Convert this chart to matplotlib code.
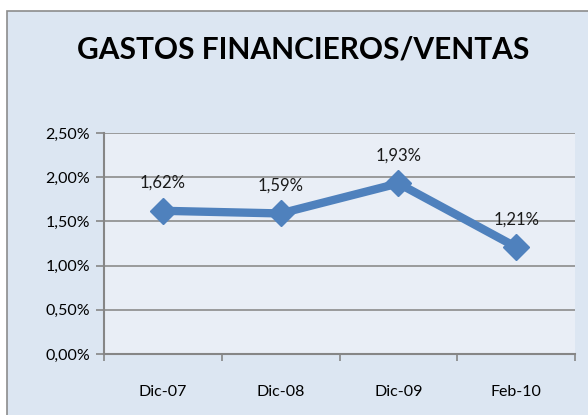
import matplotlib
matplotlib.use("Agg")
import matplotlib.pyplot as plt
from matplotlib.patches import Rectangle
from matplotlib.ticker import FuncFormatter

categories = ["Dic-07", "Dic-08", "Dic-09", "Feb-10"]
values = [1.62, 1.59, 1.93, 1.21]
labels = ["1,62%", "1,59%", "1,93%", "1,21%"]

plt.rcParams['font.family'] = ['Lato', 'DejaVu Sans']

W, H = 588, 415
fig = plt.figure(figsize=(W / 100, H / 100), dpi=100)
fig.patch.set_facecolor("white")

# chart area with gray border
bg = Rectangle((7 / W, -0.05), 1, 1.05 - 11 / H, transform=fig.transFigure,
               facecolor="#dce6f2", edgecolor="#8c8c8c", linewidth=1.2, zorder=-10)
fig.add_artist(bg)

ax = fig.add_axes([104 / W, 1 - 354 / H, 471 / W, 221 / H])
ax.set_facecolor("#e9eef6")

x = list(range(len(categories)))
ax.plot(x, values, color="#4f81bd", linewidth=6, marker="D", markersize=13,
        solid_joinstyle="miter", zorder=3)
for xi, v, lab in zip(x, values, labels):
    ax.annotate(lab, (xi, v), xytext=(0, 20), textcoords="offset points",
                ha="center", va="center", fontsize=12, color="#1a1a1a")

ax.set_xlim(-0.5, len(categories) - 0.5)
ax.set_ylim(0, 2.5)
ax.set_yticks([0, 0.5, 1.0, 1.5, 2.0, 2.5])
ax.yaxis.set_major_formatter(FuncFormatter(lambda v, p: f"{v:.2f}%".replace(".", ",")))
ax.set_xticks(x)
ax.set_xticklabels(categories)
ax.set_xticks([-0.5, 0.5, 1.5, 2.5, 3.5], minor=True)
ax.tick_params(axis="x", which="major", length=0, pad=22, labelsize=11.5)
ax.tick_params(axis="x", which="minor", length=5, width=1.2, color="#868686")
ax.tick_params(axis="y", length=6, width=1.2, color="#868686", pad=4, labelsize=11.5)
ax.grid(axis="y", color="#8c8c8c", linewidth=1.2)
ax.set_axisbelow(True)
for s in ["top", "right"]:
    ax.spines[s].set_visible(False)
for s in ["left", "bottom"]:
    ax.spines[s].set_color("#868686")
    ax.spines[s].set_linewidth(1.5)

fig.text(303 / W, 1 - 50 / H, "GASTOS FINANCIEROS/VENTAS", ha="center", va="center",
         fontsize=21.5, fontweight="bold", color="black")

fig.savefig("out.png", dpi=100, facecolor=fig.get_facecolor())
